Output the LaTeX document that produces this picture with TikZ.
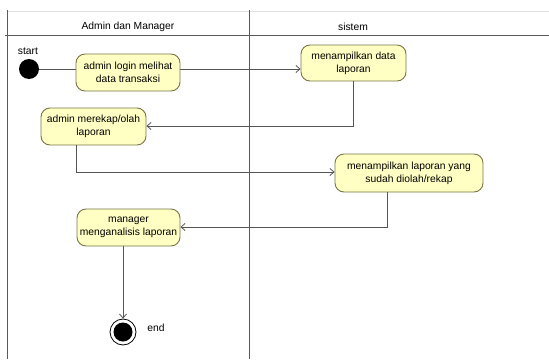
\documentclass[tikz,border=0pt]{standalone}
\usepackage{fontspec}
\setmainfont{Liberation Sans}
\usetikzlibrary{arrows.meta}
\definecolor{actfill}{RGB}{255,255,196}
\definecolor{actdraw}{RGB}{120,118,70}
\definecolor{lanecol}{RGB}{90,90,90}
\definecolor{flowcol}{RGB}{85,85,85}
\begin{document}
\begin{tikzpicture}[x=1pt,y=-1pt,
  act/.style={draw=actdraw, fill=actfill, line width=0.9pt, rounded corners=9pt,
    align=center, inner sep=0pt, font=\fontsize{10.3}{13}\selectfont},
  lane/.style={draw=lanecol, line width=0.9pt},
  flow/.style={draw=flowcol, line width=0.8pt, -{Straight Barb[length=4pt,width=7pt]}},
  lbl/.style={font=\fontsize{10.3}{13}\selectfont}]
\useasboundingbox (0,0) rectangle (549,359);
% swimlanes
\draw[draw=black!12, line width=0.6pt] (7,11) -- (549,11);
\draw[lane] (7,10) -- (7,359);
\draw[lane] (249,10) -- (249,359);
\draw[lane] (5,35) -- (549,35);
\node[lbl] (h1) at (128,27) {Admin dan Manager};
\node[lbl] (h2) at (353,27) {sistem};
% start
\node[circle, fill=black, inner sep=0pt, minimum size=20pt] (start) at (29,69) {};
\node[lbl] (startlbl) at (28,51) {start};
% activities
\node[act, minimum width=104pt, minimum height=37pt] (a) at (128,72.5) {admin login melihat\\data transaksi};
\node[act, minimum width=105pt, minimum height=36pt] (b) at (353.5,63) {menampilkan data\\laporan};
\node[act, minimum width=105pt, minimum height=37pt] (c) at (93.5,126.5) {admin merekap/olah\\laporan};
\node[act, minimum width=148pt, minimum height=38pt] (d) at (409,173) {menampilkan laporan yang\\sudah diolah/rekap};
\node[act, minimum width=103pt, minimum height=37pt] (e) at (128.5,227.5) {manager\\menganalisis laporan};
% end
\node[circle, draw=black, line width=0.8pt, fill=white, inner sep=0pt, minimum size=26pt] (endo) at (123,332) {};
\node[circle, fill=black, inner sep=0pt, minimum size=19pt] (endi) at (endo.center) {};
\node[lbl] (endlbl) at (156,328) {end};
% flows
\draw[draw=flowcol, line width=0.8pt] (start.east) -- (start.east -| a.west);
\draw[flow] (a.east |- 0,69) -- (b.west |- 0,69);
\draw[flow] (b.south -| 353,0) -- (353,126) -- (c.east |- 0,126);
\draw[flow] (76,0 |- c.south) -- (76,172) -- (d.west |- 0,172);
\draw[flow] (387,0 |- d.south) -- (387,227) -- (e.east |- 0,227);
\draw[flow] (123,0 |- e.south) -- (endo.north);
\end{tikzpicture}
\end{document}
